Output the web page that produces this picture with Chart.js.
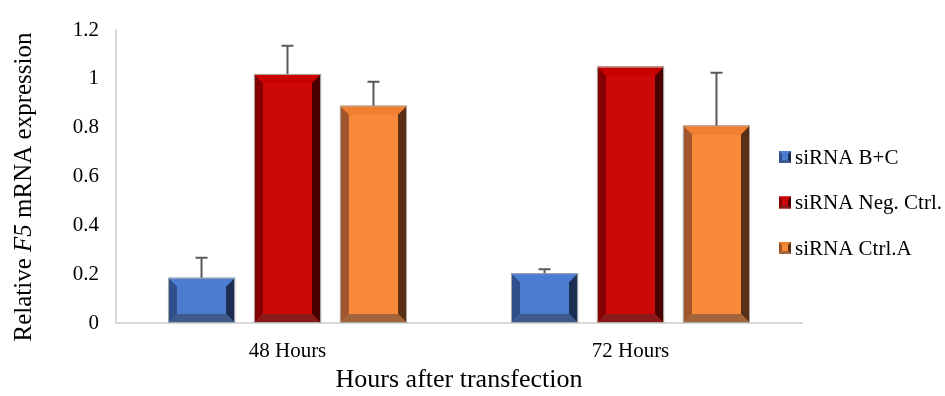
<!DOCTYPE html>
<html>
  <head>
    <meta charset="utf-8">
    <title>F5 mRNA expression</title>
    <script src="https://cdn.jsdelivr.net/npm/chart.js@4.4.1/dist/chart.umd.min.js"></script>
    <style>
      html, body { margin: 0; padding: 0; background: #fff; }
      #wrap { width: 945px; height: 396px; }
    </style>
  </head>
  <body>
    <div id="wrap"><canvas id="chart1" width="945" height="396"></canvas></div>
    <script>
      // data
      var categories = ['48 Hours', '72 Hours'];
      var seriesNames = ['siRNA B+C', 'siRNA Neg. Ctrl.', 'siRNA Ctrl.A'];
      var valBC   = [0.185, 0.204];
      var valNeg  = [1.02, 1.05];
      var valCtrA = [0.89, 0.809];
      var errBC   = [0.082, 0.016];
      var errNeg  = [0.116, 0];
      var errCtrA = [0.098, 0.216];
      var yTicks  = [0, 0.2, 0.4, 0.6, 0.8, 1, 1.2];
      var yTickLabels = ['0', '0.2', '0.4', '0.6', '0.8', '1', '1.2'];

      // bevel palette: face, top, left, right, bottom
      var palette = [
        {face: '#4a7bcf', top: '#4b7dd2', left: '#2f508b', right: '#1b2e52', bottom: '#3f5b8c'},
        {face: '#cc0808', top: '#c80000', left: '#850000', right: '#480000', bottom: '#8a1a1a'},
        {face: '#f8883a', top: '#f08030', left: '#a1552a', right: '#5a3015', bottom: '#a2643a'}
      ];
      var errors = [errBC, errNeg, errCtrA];
      var serif = '"Liberation Serif", "Times New Roman", serif';

      function bevelRect(ctx, left, top, right, bottom, b, pal) {
        ctx.fillStyle = pal.face;
        ctx.fillRect(left, top, right - left, bottom - top);
        function poly(pts, c) {
          ctx.beginPath();
          ctx.moveTo(pts[0][0], pts[0][1]);
          for (var k = 1; k < pts.length; k++) ctx.lineTo(pts[k][0], pts[k][1]);
          ctx.closePath();
          ctx.fillStyle = c;
          ctx.fill();
        }
        poly([[left, top], [right, top], [right - b, top + b], [left + b, top + b]], pal.top);
        poly([[left, top], [left + b, top + b], [left + b, bottom - b], [left, bottom]], pal.left);
        poly([[right, top], [right, bottom], [right - b, bottom - b], [right - b, top + b]], pal.right);
        poly([[left, bottom], [left + b, bottom - b], [right - b, bottom - b], [right, bottom]], pal.bottom);
      }

      var bevelPlugin = {
        id: 'bevel',
        afterDatasetsDraw: function(chart) {
          var ctx = chart.ctx;
          var y = chart.scales.y;
          ctx.save();
          chart.data.datasets.forEach(function(ds, di) {
            var meta = chart.getDatasetMeta(di);
            meta.data.forEach(function(el, i) {
              var p = el.getProps(['x', 'y', 'base', 'width'], true);
              var left = p.x - p.width / 2, right = p.x + p.width / 2;
              var top = Math.min(p.y, p.base), bottom = Math.max(p.y, p.base);
              var b = Math.min(9, (bottom - top) / 2, p.width / 2);
              bevelRect(ctx, left, top, right, bottom, b, palette[di]);
              ctx.strokeStyle = '#a9a9a9';
              ctx.lineWidth = 1;
              ctx.strokeRect(left + 0.5, top + 0.5, right - left - 1, bottom - top - 1);
              // error bar (upper only)
              var e = errors[di][i];
              if (e > 0) {
                var yTop = y.getPixelForValue(ds.data[i] + e);
                ctx.strokeStyle = '#595959';
                ctx.lineWidth = 2;
                ctx.beginPath();
                ctx.moveTo(p.x, top);
                ctx.lineTo(p.x, yTop);
                ctx.moveTo(p.x - 6, yTop);
                ctx.lineTo(p.x + 6, yTop);
                ctx.stroke();
              }
            });
          });
          ctx.restore();
        },
        afterDraw: function(chart) {
          var ctx = chart.ctx;
          ctx.save();
          // y axis title with italic gene name
          ctx.translate(24, 187);
          ctx.rotate(-Math.PI / 2);
          ctx.fillStyle = '#000';
          ctx.textBaseline = 'middle';
          var parts = [['Relative ', ''], ['F5', 'italic '], [' mRNA expression', '']];
          var w = 0;
          parts.forEach(function(pt) { ctx.font = pt[1] + '25px ' + serif; w += ctx.measureText(pt[0]).width; });
          var x = -w / 2;
          parts.forEach(function(pt) {
            ctx.font = pt[1] + '25px ' + serif;
            ctx.fillText(pt[0], x, 0);
            x += ctx.measureText(pt[0]).width;
          });
          ctx.restore();

          // legend
          ctx.save();
          ctx.font = '21px ' + serif;
          ctx.textBaseline = 'middle';
          chart.data.datasets.forEach(function(ds, di) {
            var cy = 157 + di * 45.5;
            bevelRect(ctx, 779, cy - 6, 791, cy + 6, 3, palette[di]);
            ctx.fillStyle = '#000';
            ctx.fillText(ds.label, 795, cy + 1);
          });
          ctx.restore();
        }
      };

      var seriesValues = [valBC, valNeg, valCtrA];
      var datasets = seriesNames.map(function(name, i) {
        return {
          label: name,
          data: seriesValues[i],
          backgroundColor: 'rgba(0,0,0,0)',
          borderWidth: 0,
          categoryPercentage: 0.752,
          barPercentage: 0.78
        };
      });

      new Chart(document.getElementById('chart1').getContext('2d'), {
        type: 'bar',
        data: {labels: categories, datasets: datasets},
        options: {
          responsive: false,
          animation: false,
          layout: {padding: {left: 0, right: 143, top: 30, bottom: 0}},
          plugins: {legend: {display: false}, tooltip: {enabled: false}},
          scales: {
            x: {
              grid: {display: false, drawTicks: false},
              border: {display: true, color: '#d9d9d9', width: 2},
              ticks: {color: '#000', padding: 16, font: {family: serif, size: 21}},
              title: {display: true, text: 'Hours after transfection', color: '#000',
                      font: {family: serif, size: 26}, padding: {top: 0, bottom: 0}},
              afterFit: function(s) { s.height = 73; }
            },
            y: {
              min: 0, max: 1.2,
              afterBuildTicks: function(s) { s.ticks = yTicks.map(function(v) { return {value: v}; }); },
              grid: {display: false, drawTicks: false},
              border: {display: true, color: '#d9d9d9', width: 2},
              ticks: {
                color: '#000', padding: 17, font: {family: serif, size: 21},
                callback: function(v, i) { return yTickLabels[i]; }
              },
              afterFit: function(s) { s.width = 116; }
            }
          }
        },
        plugins: [bevelPlugin]
      });
    </script>
  </body>
</html>
